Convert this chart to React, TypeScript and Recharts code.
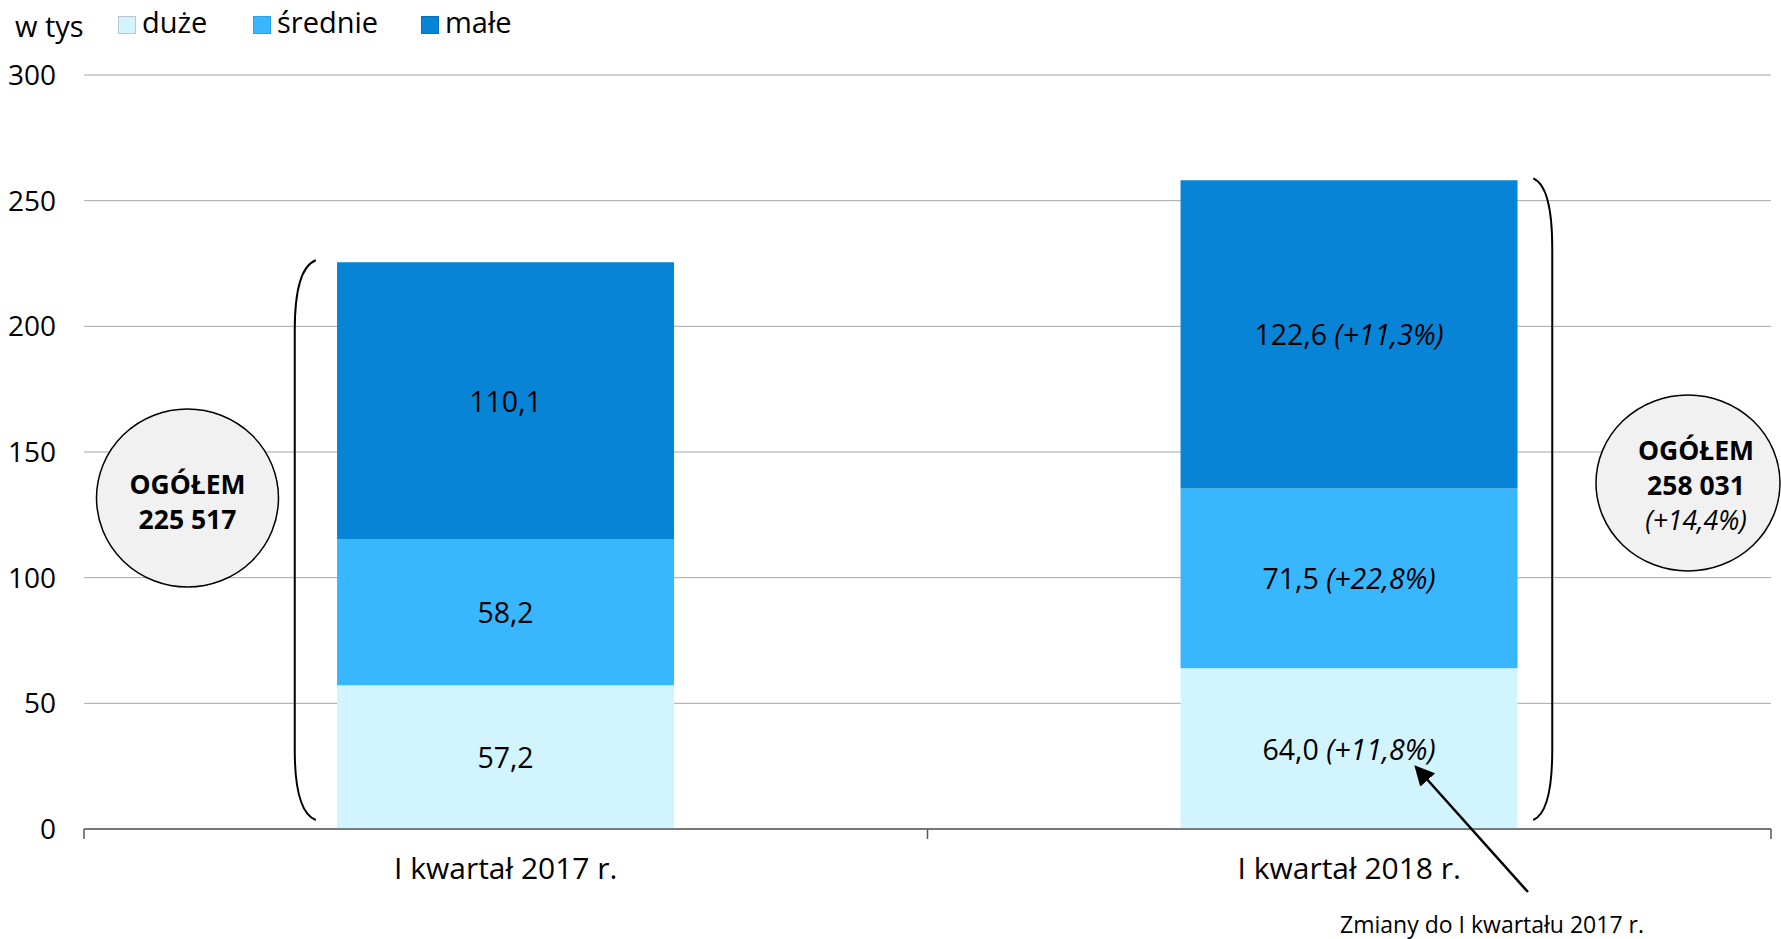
import { BarChart, Bar, XAxis, YAxis, CartesianGrid, LabelList, ReferenceLine } from "recharts";

// dane (w tys.)
const categories = ["I kwartał 2017 r.", "I kwartał 2018 r."];
const duze = [57.2, 64.0];
const srednie = [58.2, 71.5];
const male = [110.1, 122.6];
const duzeZmiana = ["", "+11,8%"];
const srednieZmiana = ["", "+22,8%"];
const maleZmiana = ["", "+11,3%"];
const ogolem = ["225 517", "258 031"];
const ogolemZmiana = ["", "+14,4%"];
const yTicks = [0, 50, 100, 150, 200, 250, 300];

const COLORS = { duze: "#d1f4fe", srednie: "#39b7fe", male: "#0784d6" };
const FONT = "'Open Sans', 'Noto Sans', sans-serif";

const data = categories.map((cat, i) => ({
  cat,
  duze: duze[i],
  srednie: srednie[i],
  male: male[i],
  suma: duze[i] + srednie[i] + male[i],
}));

const fmt = (v: number) => v.toFixed(1).replace(".", ",");

// etykieta w słupku: wartość + zmiana kursywą
const makeLabel = (zmiany: string[]) => (props: any) => {
  const { x, y, width, height, value, index } = props;
  const zm = zmiany[index];
  return (
    <text
      x={x + width / 2}
      y={y + height / 2}
      textAnchor="middle"
      dominantBaseline="central"
      fontSize={28.5}
      fontFamily={FONT}
      fill="#000"
    >
      {fmt(Number(value))}
      {zm && " "}
      {zm && <tspan fontStyle="italic">({zm})</tspan>}
    </text>
  );
};

// tick osi X: podpis + kreski na granicach kategorii
const XTick = (props: any) => {
  const { x, y, payload, index } = props;
  const half = payload?.offset ?? 0;
  return (
    <g>
      <line x1={x - half} y1={y} x2={x - half} y2={y + 10} stroke="#595959" strokeWidth={1.5} />
      {index === categories.length - 1 && (
        <line x1={x + half} y1={y} x2={x + half} y2={y + 10} stroke="#595959" strokeWidth={1.5} />
      )}
      <text x={x} y={y + 50} textAnchor="middle" fontSize={30} fontFamily={FONT} fill="#000">
        {payload.value}
      </text>
    </g>
  );
};

// nawias obejmujący cały słupek
const makeBracket = (side: "left" | "right", dxEnd: number, dxMid: number) => (props: any) => {
  const { x1, y1, y2 } = props;
  const top = Math.min(y1, y2) - 2;
  const bottom = Math.max(y1, y2) - 9;
  const s = side === "left" ? -1 : 1;
  const xe = x1 + s * dxEnd;
  const xm = x1 + s * dxMid;
  const d = `M ${xe} ${top} Q ${xm} ${top + 8} ${xm} ${top + 70} L ${xm} ${bottom - 70} Q ${xm} ${bottom - 8} ${xe} ${bottom}`;
  return <path d={d} fill="none" stroke="#000" strokeWidth={2} />;
};

const Legend = () => {
  const items = [
    { name: "duże", color: COLORS.duze, left: 118, border: "#b8c8cc" },
    { name: "średnie", color: COLORS.srednie, left: 253, border: "#2fa0e0" },
    { name: "małe", color: COLORS.male, left: 421, border: "#0670b8" },
  ];
  return (
    <div style={{ position: "absolute", left: 0, top: 0, fontFamily: FONT, fontSize: 29, color: "#000", lineHeight: "40px" }}>
      <span style={{ position: "absolute", left: 15, top: 6, whiteSpace: "nowrap" }}>w tys</span>
      {items.map((it) => (
        <div key={it.name}>
          <div
            style={{
              position: "absolute",
              left: it.left,
              top: 16,
              width: 18,
              height: 18,
              background: it.color,
              border: `1px solid ${it.border}`,
              boxSizing: "border-box",
            }}
          />
          <span style={{ position: "absolute", left: it.left + 24, top: 2, whiteSpace: "nowrap" }}>{it.name}</span>
        </div>
      ))}
    </div>
  );
};

const App = () => {
  return (
    <div style={{ position: "absolute", left: 0, top: 0, width: 1781, height: 939, background: "#fff", overflow: "hidden" }}>
      <BarChart
        width={1781}
        height={939}
        data={data}
        margin={{ top: 75, right: 10, left: 0, bottom: 70 }}
        barCategoryGap="30%"
      >
        <CartesianGrid vertical={false} stroke="#a6a6a6" />
        <XAxis
          dataKey="cat"
          height={40}
          tickLine={false}
          tickSize={0}
          tickMargin={0}
          axisLine={{ stroke: "#595959", strokeWidth: 1.5 }}
          tick={<XTick />}
          interval={0}
        />
        <YAxis
          width={84}
          domain={[0, 300]}
          ticks={yTicks}
          tickLine={false}
          axisLine={false}
          tickMargin={22}
          tick={{ fill: "#000", fontSize: 28, fontFamily: FONT }}
        />
        <Bar dataKey="duze" stackId="a" fill={COLORS.duze} isAnimationActive={false}>
          <LabelList dataKey="duze" content={makeLabel(duzeZmiana)} />
        </Bar>
        <Bar dataKey="srednie" stackId="a" fill={COLORS.srednie} isAnimationActive={false}>
          <LabelList dataKey="srednie" content={makeLabel(srednieZmiana)} />
        </Bar>
        <Bar dataKey="male" stackId="a" fill={COLORS.male} isAnimationActive={false}>
          <LabelList dataKey="male" content={makeLabel(maleZmiana)} />
        </Bar>
        <ReferenceLine
          segment={[{ x: categories[0], y: 0 }, { x: categories[0], y: data[0].suma }]}
          shape={makeBracket("left", 190, 211)}
        />
        <ReferenceLine
          segment={[{ x: categories[1], y: 0 }, { x: categories[1], y: data[1].suma }]}
          shape={makeBracket("right", 184, 203)}
        />
      </BarChart>

      <Legend />

      {/* adnotacje: ogółem + strzałka */}
      <svg width={1781} height={939} style={{ position: "absolute", left: 0, top: 0, pointerEvents: "none" }}>
        <defs>
          <marker id="arrow" markerWidth="8" markerHeight="8" refX="7" refY="4" orient="auto" markerUnits="strokeWidth">
            <path d="M0,0 L8,4 L0,8 z" fill="#000" />
          </marker>
        </defs>
        <ellipse cx={187.5} cy={498} rx={91} ry={89} fill="#f1f1f1" stroke="#000" strokeWidth={1.5} />
        <text x={187.5} y={494} textAnchor="middle" fontFamily={FONT} fontSize={26.5} fontWeight="bold">OGÓŁEM</text>
        <text x={187.5} y={529} textAnchor="middle" fontFamily={FONT} fontSize={26.5} fontWeight="bold">{ogolem[0]}</text>

        <ellipse cx={1688} cy={483} rx={92} ry={88} fill="#f1f1f1" stroke="#000" strokeWidth={1.5} />
        <text x={1696} y={460} textAnchor="middle" fontFamily={FONT} fontSize={26.5} fontWeight="bold">OGÓŁEM</text>
        <text x={1696} y={495} textAnchor="middle" fontFamily={FONT} fontSize={26.5} fontWeight="bold">{ogolem[1]}</text>
        <text x={1696} y={530} textAnchor="middle" fontFamily={FONT} fontSize={26.5} fontStyle="italic">({ogolemZmiana[1]})</text>

        <line x1={1528} y1={892} x2={1416} y2={767} stroke="#000" strokeWidth={2.5} markerEnd="url(#arrow)" />
        <text x={1492} y={933} textAnchor="middle" fontFamily={FONT} fontSize={23}>Zmiany do I kwartału 2017 r.</text>
      </svg>
    </div>
  );
};

export default App;
